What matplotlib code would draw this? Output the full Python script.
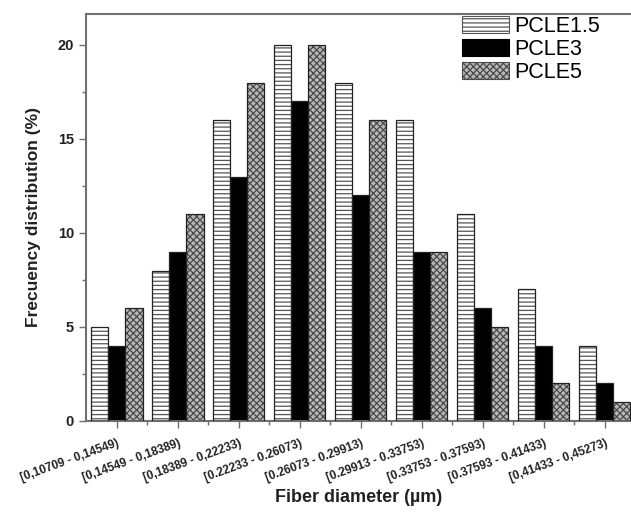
import matplotlib
matplotlib.use("Agg")
import matplotlib.pyplot as plt
from matplotlib.patches import Patch
from matplotlib.ticker import FixedLocator
import numpy as np

categories = ["[0,10709 - 0,14549)", "[0,14549 - 0,18389)", "[0,18389 - 0,22233)",
              "[0.22233 - 0.26073)", "[0.26073 - 0.29913)", "[0.29913 - 0.33753)",
              "[0.33753 - 0.37593)", "[0.37593 - 0.41433)", "[0,41433 - 0,45273)"]
pcle15 = [5, 8, 16, 20, 18, 16, 11, 7, 4]
pcle3 = [4, 9, 13, 17, 12, 9, 6, 4, 2]
pcle5 = [6, 11, 18, 20, 16, 9, 5, 2, 1]
series_names = ["PCLE1.5", "PCLE3", "PCLE5"]
yticks = [0, 5, 10, 15, 20]

plt.rcParams['font.family'] = ['Liberation Sans', 'DejaVu Sans']
plt.rcParams['hatch.linewidth'] = 0.9

fig = plt.figure(figsize=(6.31, 5.14), dpi=100)
ax = fig.add_axes([0.136, 0.181, 0.864, 0.792])

x = np.arange(len(categories))
w = 0.28
styles = [
    dict(facecolor='white', hatch='----', hcolor='#555555'),
    dict(facecolor='black', hatch=None, hcolor='black'),
    dict(facecolor='#b8b8b8', hatch='xxxxx', hcolor='#4a4a4a'),
]
handles = []
for i, (vals, st) in enumerate(zip([pcle15, pcle3, pcle5], styles)):
    pos = x + (i - 1) * w
    ax.bar(pos, vals, w, facecolor=st['facecolor'], hatch=st['hatch'],
           edgecolor=st['hcolor'], linewidth=0, zorder=2)
    ax.bar(pos, vals, w, fill=False, edgecolor='#222222', linewidth=0.9, zorder=3)
    handles.append(Patch(facecolor=st['facecolor'], hatch=st['hatch'],
                         edgecolor=st['hcolor'], linewidth=0.8, label=series_names[i]))

ax.set_xlim(-0.51, 8.43)
ax.set_ylim(0, 21.65)

for s in ['top', 'left', 'bottom']:
    ax.spines[s].set_color('#707070')
    ax.spines[s].set_linewidth(1.5)
ax.spines['right'].set_visible(False)

ax.set_yticks(yticks)
ax.yaxis.set_minor_locator(FixedLocator([2.5, 7.5, 12.5, 17.5]))
ax.set_xticks(x)
ax.xaxis.set_minor_locator(FixedLocator(x[:-1] + 0.5))
ax.tick_params(axis='both', which='major', direction='out', length=5, width=1, color='#707070')
ax.tick_params(axis='both', which='minor', direction='out', length=3, width=1, color='#707070')
ax.tick_params(axis='x', which='major', pad=7)

ax.set_yticklabels([str(v) for v in yticks], fontsize=10.5, fontweight='bold', color='#222222')
ax.set_xticklabels(categories, rotation=20, ha='right', rotation_mode='anchor',
                   fontsize=8.5, fontweight='bold', color='#222222')

ax.set_ylabel("Frecuency distribution (%)", fontsize=12.5, fontweight='bold', color='#222222', labelpad=12)
ax.set_xlabel("Fiber diameter (\u00b5m)", fontsize=13, fontweight='bold', color='#222222', labelpad=3)

leg = ax.legend(handles=handles, loc='upper left', bbox_to_anchor=(0.67, 1.022), frameon=False,
                fontsize=15.5, handlelength=2.2, handleheight=0.85, handletextpad=0.25,
                labelspacing=0.1, borderaxespad=0.1)

fig.savefig("out.png", dpi=100)
